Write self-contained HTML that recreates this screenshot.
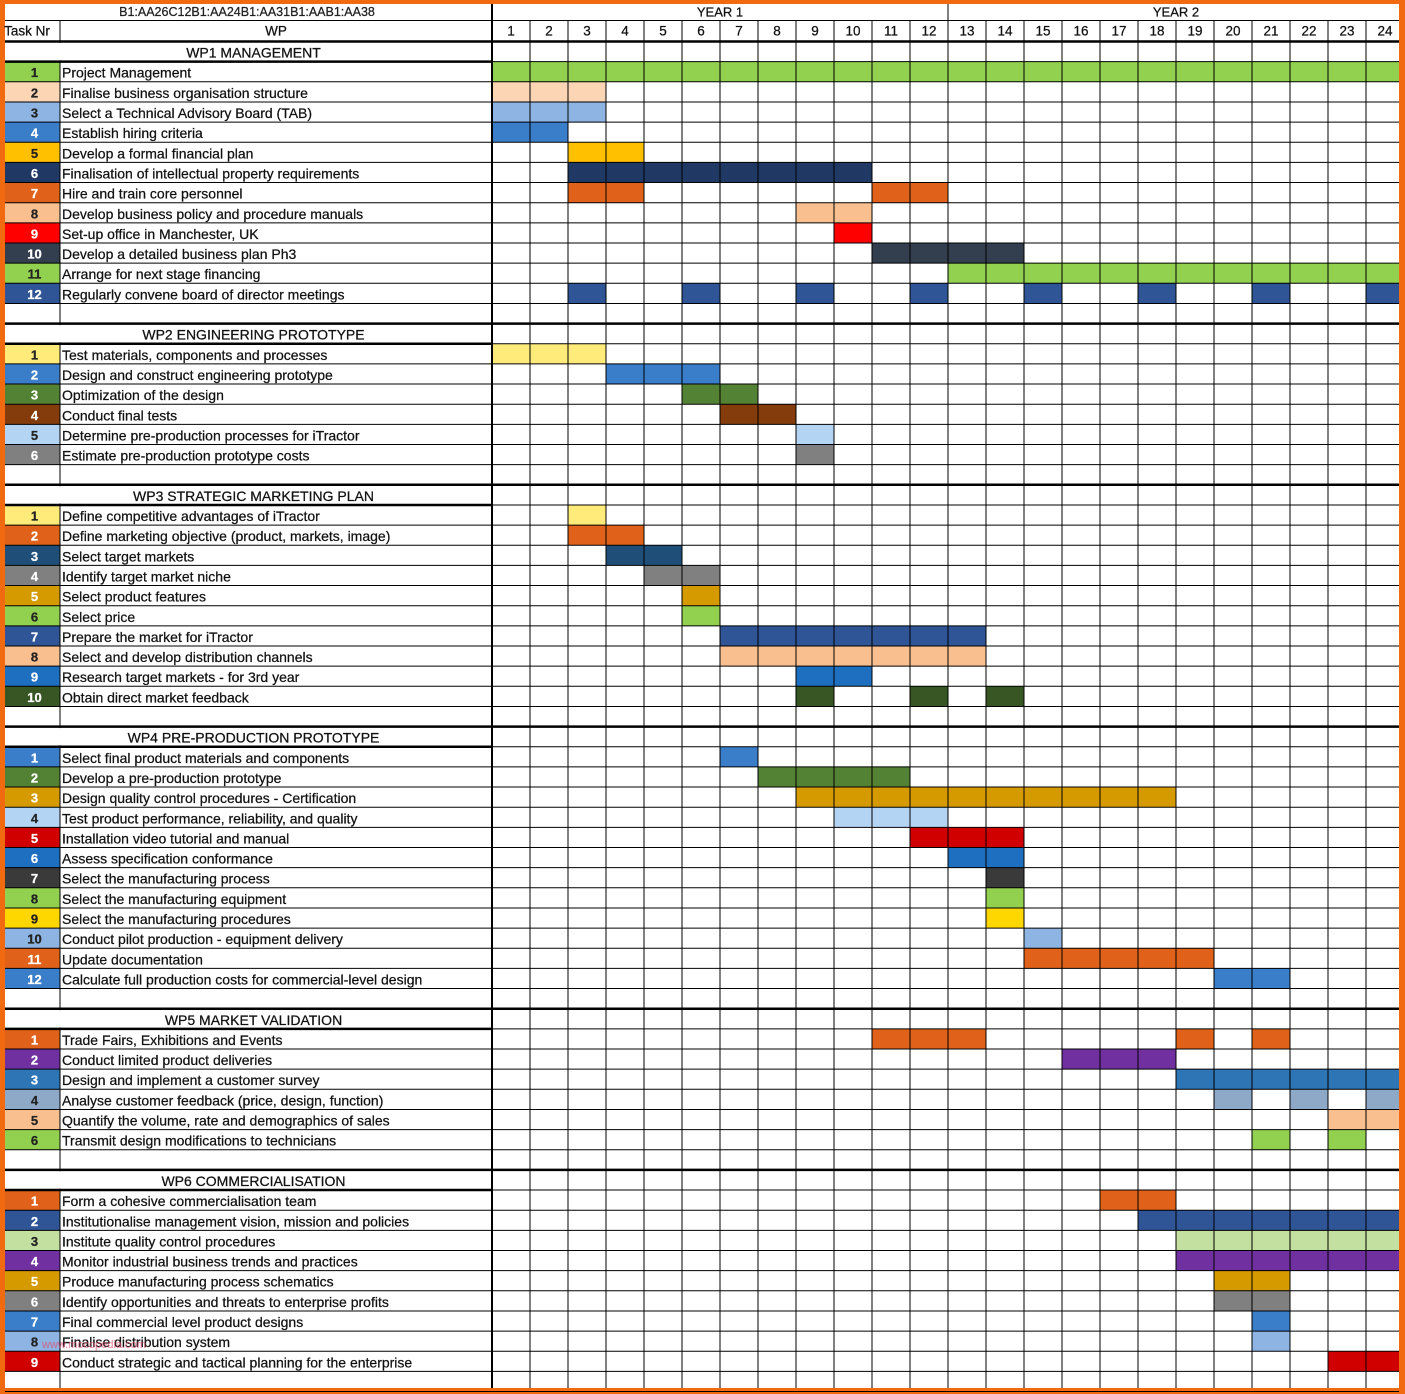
<!DOCTYPE html>
<html><head><meta charset="utf-8">
<style>
html,body{margin:0;padding:0;background:#f26a10;}
svg{display:block;font-family:"Liberation Sans",sans-serif;}
svg text{stroke:currentColor;stroke-width:0.25;}
</style></head>
<body>
<svg id="chart" width="1405" height="1394" viewBox="0 0 1405 1394"></svg>
<script>
const sections = ["WP1 MANAGEMENT","WP2 ENGINEERING PROTOTYPE","WP3 STRATEGIC MARKETING PLAN","WP4 PRE-PRODUCTION PROTOTYPE","WP5 MARKET VALIDATION","WP6 COMMERCIALISATION"];
const taskNames = [
 ["Project Management","Finalise business organisation structure","Select a Technical Advisory Board (TAB)","Establish hiring criteria","Develop a formal financial plan","Finalisation of intellectual property requirements","Hire and train core personnel","Develop business policy and procedure manuals","Set-up office in Manchester, UK","Develop a detailed business plan Ph3","Arrange for next stage financing","Regularly convene board of director meetings"],
 ["Test materials, components and processes","Design and construct engineering prototype","Optimization of the design","Conduct final tests","Determine pre-production processes for  iTractor","Estimate pre-production prototype costs"],
 ["Define competitive advantages of iTractor","Define marketing objective (product, markets, image)","Select target markets","Identify target market niche","Select product features","Select price","Prepare the market for iTractor","Select and develop distribution channels","Research target markets - for 3rd year","Obtain direct market feedback"],
 ["Select final product materials and components","Develop a pre-production prototype","Design quality control procedures - Certification","Test product performance, reliability, and quality","Installation video tutorial and manual","Assess specification conformance","Select the manufacturing process","Select the manufacturing equipment","Select the manufacturing procedures","Conduct pilot production - equipment delivery","Update documentation","Calculate full production costs for commercial-level design"],
 ["Trade Fairs, Exhibitions and Events","Conduct limited product deliveries","Design and implement a customer survey","Analyse customer feedback (price, design, function)","Quantify the volume, rate and demographics of sales","Transmit design modifications to technicians"],
 ["Form a cohesive commercialisation team","Institutionalise management vision, mission and policies","Institute quality control procedures","Monitor industrial business trends and practices","Produce manufacturing process schematics","Identify opportunities and threats to enterprise profits","Final commercial level product designs","Finalise distribution system","Conduct strategic and tactical planning for the enterprise"]
];
const taskColors = [
 ["#92d050","#fcd5b4","#8db4e2","#3a7dc9","#ffc000","#1f3864","#e0621a","#fabf8f","#ff0000","#333f4f","#92d050","#2f5597"],
 ["#ffeb7a","#3a7dc9","#548235","#843c0c","#b4d4f4","#808080"],
 ["#ffeb7a","#e0621a","#1f4e79","#808080","#d49a00","#92d050","#2f5597","#fabf8f","#1f6fc0","#375623"],
 ["#3a7dc9","#548235","#d49a00","#b4d4f4","#d00000","#1f6fc0","#3a3a3a","#92d050","#ffd700","#8db4e2","#e0621a","#3a7dc9"],
 ["#e0621a","#7030a0","#2e75b6","#8ea9c8","#fabf8f","#92d050"],
 ["#e0621a","#2f5597","#c4e0a0","#7030a0","#d49a00","#808080","#3a7dc9","#8db4e2","#d00000"]
];
const taskRanges = [
 [[[1,24]],[[1,3]],[[1,3]],[[1,2]],[[3,4]],[[3,10]],[[3,4],[11,12]],[[9,10]],[[10,10]],[[11,14]],[[13,24]],[[3,3],[6,6],[9,9],[12,12],[15,15],[18,18],[21,21],[24,24]]],
 [[[1,3]],[[4,6]],[[6,7]],[[7,8]],[[9,9]],[[9,9]]],
 [[[3,3]],[[3,4]],[[4,5]],[[5,6]],[[6,6]],[[6,6]],[[7,13]],[[7,13]],[[9,10]],[[9,9],[12,12],[14,14]]],
 [[[7,7]],[[8,11]],[[9,18]],[[10,12]],[[12,14]],[[13,14]],[[14,14]],[[14,14]],[[14,14]],[[15,15]],[[15,19]],[[20,21]]],
 [[[11,13],[19,19],[21,21]],[[16,18]],[[19,24]],[[20,20],[22,22],[24,24]],[[23,24]],[[21,21],[23,23]]],
 [[[17,18]],[[18,24]],[[19,24]],[[19,24]],[[20,21]],[[20,21]],[[21,21]],[[21,21]],[[23,24]]]
];
const lightText = ["#fcd5b4","#fabf8f","#ffeb7a","#ffc000","#ffd700","#b4d4f4","#c4e0a0","#92d050","#8db4e2","#8ea9c8"];

const NS="http://www.w3.org/2000/svg";
const svg=document.getElementById('chart');
const X0=5,X1=60,X2=492,MW=38,Y0=41.5,RH=20.15,TOP=4,BOT=1388,RIGHT=1399;
const mx=m=>X2+(m-1)*MW;
function el(tag,attrs,parent){const e=document.createElementNS(NS,tag);for(const k in attrs)e.setAttribute(k,attrs[k]);(parent||svg).appendChild(e);return e;}
function txt(x,y,s,anchor,weight,fill,size){const t=el('text',{x:x,y:y,'text-anchor':anchor,'font-size':size||14,'font-weight':weight||'normal',fill:fill||'#111',color:fill||'#111','dominant-baseline':'central'});t.textContent=s;return t;}

const bg=el('rect',{x:X0,y:TOP,width:RIGHT-X0,height:BOT-TOP,fill:'#fff'});



let rows=[];let r=0;
sections.forEach((s,si)=>{rows.push({type:'sec',si:si,i:r++});taskNames[si].forEach((n,ti)=>rows.push({type:'task',si:si,ti:ti,i:r++}));rows.push({type:'blank',i:r++});});
const rowY=i=>Y0+i*RH;

rows.forEach(row=>{
 const y=rowY(row.i);
 if(row.type==='task'){
  const c=taskColors[row.si][row.ti];
  const g=el('g',{});
  
  
  const nr=el('rect',{x:X0,y:y,width:X1-X0,height:RH,fill:c},g);
  
  
  taskRanges[row.si][row.ti].forEach(rg=>{
   const x=mx(rg[0]);
   const w=Math.min((rg[1]-rg[0]+1)*MW, RIGHT-x);
   const b=el('rect',{x:x,y:y,width:w,height:RH,fill:c},g);
   
   
  });
  const lt=lightText.includes(c);
  const t1=txt((X0+X1)/2+2,y+RH/2+1,String(row.ti+1),'middle','bold',lt?'#222':'#fff',13);
  
  
  g.appendChild(t1);
  const t2=txt(X1+2,y+RH/2+1,taskNames[row.si][row.ti],'start','normal','#111');
  
  
  g.appendChild(t2);
 } else if(row.type==='sec'){
  const t=txt((X0+X2)/2+5,y+RH/2+1,sections[row.si],'middle','normal','#111');
  
  
 }
});

const gl=el('g',{stroke:'#000','stroke-width':1,fill:'none'});


const ln=(x1,y1,x2,y2,w)=>el('line',{x1:x1,y1:y1,x2:x2,y2:y2,'stroke-width':w||1},gl);
ln(X0,20.5,RIGHT,20.5);
for(let i=0;i<=rows.length;i++){
 const y=rowY(i);
 if(i<rows.length && rows[i].type==='sec'){ln(X0,y,RIGHT,y,2.5);}
 else if(i>0 && rows[i-1].type==='sec'){ln(X0,y,X2,y,2.5);ln(X2,y,RIGHT,y,1);}
 else ln(X0,y,RIGHT,y,1);
}
ln(X1,20,X1,BOT);
ln(X2,TOP,X2,BOT,2);
for(let m=2;m<=24;m++){ln(mx(m),m===13?TOP:20.5,mx(m),BOT,1);}
rows.forEach(row=>{if(row.type==='sec'){const y=rowY(row.i);el('rect',{x:X1-1,y:y+1.5,width:2,height:RH-3,fill:'#fff',stroke:'none'},gl);}});
el('rect',{x:X1-1,y:TOP,width:2,height:16,fill:'#fff',stroke:'none'},gl);

const h1=txt(247,12,'B1:AA26C12B1:AA24B1:AA31B1:AAB1:AA38','middle','normal','#222',12.5);


const y1=txt(720,12,'YEAR 1','middle','normal','#111',13);


const y2=txt(1176,12,'YEAR 2','middle','normal','#111',13);


const tn=txt(27,31,'Task Nr','middle','normal','#111',13.5);


const wp=txt(276,31,'WP','middle','normal','#111',13.5);


for(let m=1;m<=24;m++){
 const t=txt(mx(m)+MW/2,31,String(m),'middle','normal','#111',13.5);
 
 
}
const wm=txt(42,1345,'www.mocopedia.com','start','normal','#e05070',11);


wm.setAttribute('opacity','0.6');
</script>
</body></html>
